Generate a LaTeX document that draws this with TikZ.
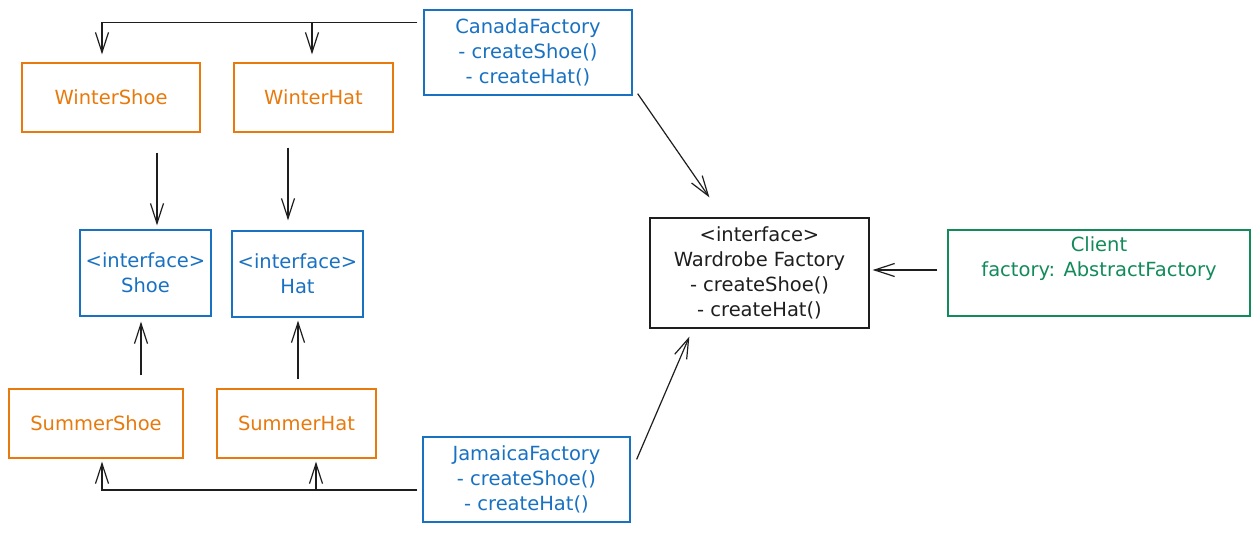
\documentclass[tikz,border=0pt]{standalone}
\usepackage{fontspec}
\setmainfont{DejaVu Sans}
\usetikzlibrary{arrows.meta,calc}
\definecolor{cblue}{HTML}{1971C2}
\definecolor{corange}{HTML}{E8790C}
\definecolor{cgreen}{HTML}{128A5A}
\definecolor{cblack}{HTML}{1E1E1E}
\tikzset{
  box/.style={draw, line width=1.3pt, rectangle, align=center, inner sep=0pt,
    font=\fontsize{19.5}{25}\selectfont},
  bluebox/.style={box, draw=cblue, text=cblue},
  orangebox/.style={box, draw=corange, text=corange},
  greenbox/.style={box, draw=cgreen, text=cgreen},
  blackbox/.style={box, draw=cblack, text=cblack},
  arr/.style={draw=cblack, line width=1.2pt, -{Straight Barb[length=20pt,width=13pt,line width=1.2pt]}},
}
\begin{document}
\begin{tikzpicture}[x=1pt,y=-1pt]
\useasboundingbox (0,0) rectangle (1260,533);
% nodes
\node[bluebox, minimum width=208, minimum height=85] (canada) at (528,52.5) {CanadaFactory\\- createShoe()\\- createHat()};
\node[orangebox, minimum width=178, minimum height=69] (wshoe) at (111,97.5) {WinterShoe};
\node[orangebox, minimum width=159, minimum height=69] (what) at (313.5,97.5) {WinterHat};
\node[bluebox, minimum width=131, minimum height=86] (ishoe) at (145.5,273) {<interface>\\Shoe};
\node[bluebox, minimum width=131, minimum height=86] (ihat) at (297.5,274) {<interface>\\Hat};
\node[orangebox, minimum width=174, minimum height=69] (sshoe) at (96,423.5) {SummerShoe};
\node[orangebox, minimum width=159, minimum height=69] (shat) at (296.5,423.5) {SummerHat};
\node[bluebox, minimum width=207, minimum height=85] (jamaica) at (526.5,479.5) {JamaicaFactory\\- createShoe()\\- createHat()};
\node[blackbox, minimum width=219, minimum height=110] (wardrobe) at (759.5,273) {<interface>\\Wardrobe Factory\\- createShoe()\\- createHat()};
\node[greenbox, minimum width=302, minimum height=86] (client) at (1099,273) {};
\node[text=cgreen, align=center, font=\fontsize{19.5}{25}\selectfont, anchor=north, inner sep=0pt] (clienttext) at ($(client.north)+(0,7)$) {Client\\factory: AbstractFactory};
% connectors
\draw[arr] ($(canada.north west)+(-6,13)$) -| ($(wshoe.north)+(-9,-8)$);
\draw[arr] ($(what.north)+(-1.5,-40)$) -- ($(what.north)+(-1.5,-8)$);
\draw[arr] ($(wshoe.south)+(46,20)$) -- ($(ishoe.north)+(11.5,-4)$);
\draw[arr] ($(what.south)+(-25.5,15)$) -- ($(ihat.north)+(-9.5,-10)$);
\draw[arr] ($(sshoe.north)+(45,-13)$) -- ($(ishoe.south)+(-4.5,5)$);
\draw[arr] ($(shat.north)+(1.5,-9)$) -- ($(ihat.south)+(0.5,3)$);
\draw[arr] ($(jamaica.west)+(-5,10.5)$) -| ($(sshoe.south)+(6,3)$);
\draw[arr] ($(shat.south)+(19.5,32)$) -- ($(shat.south)+(19.5,3)$);
\draw[arr] ($(canada.south east)+(5,-2)$) -- ($(wardrobe.north west)+(60,-20)$);
\draw[arr] ($(jamaica.north east)+(6,23)$) -- ($(wardrobe.south west)+(40,8)$);
\draw[arr] ($(client.west)+(-10,-3)$) -- ($(wardrobe.east)+(3,-3)$);
\end{tikzpicture}
\end{document}
